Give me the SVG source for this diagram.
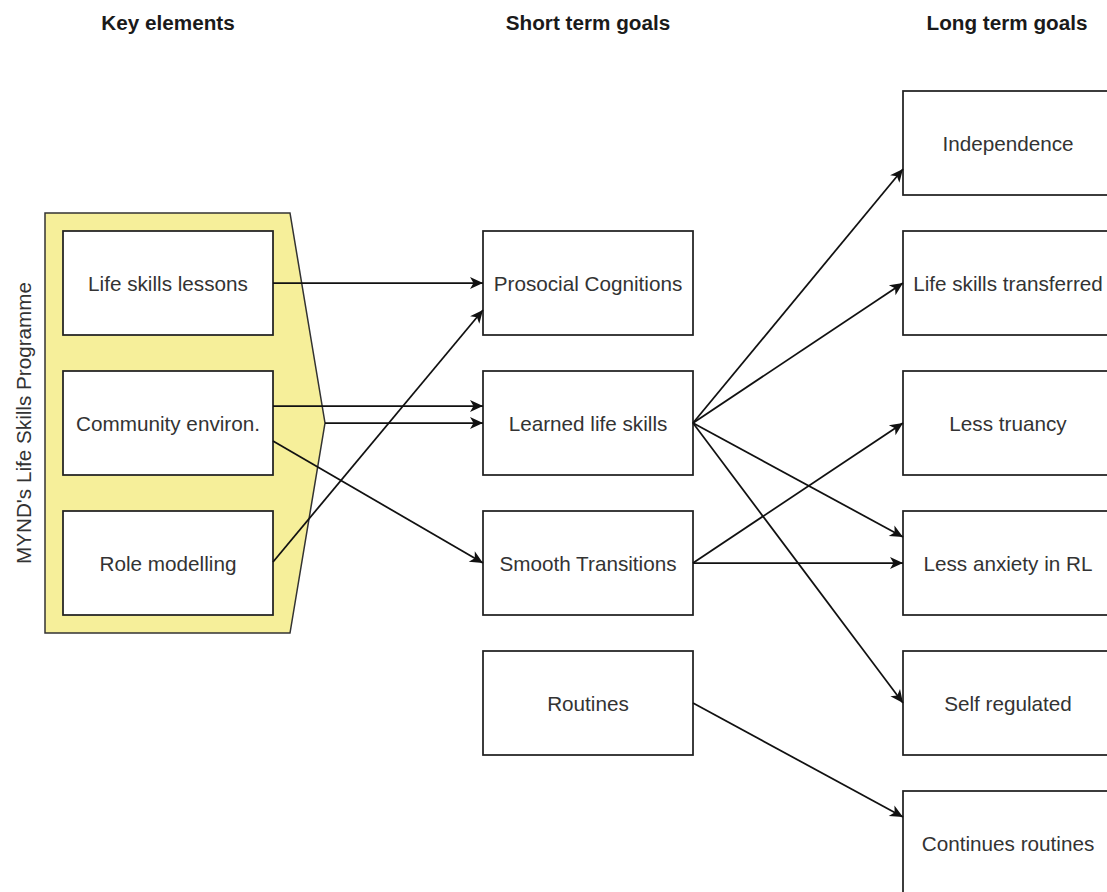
<svg xmlns="http://www.w3.org/2000/svg" width="1107" height="892" viewBox="0 0 1107 892">
  <style>
    .box { fill: #ffffff; stroke: #222222; stroke-width: 1.75; }
    .group { fill: #f6ef9a; stroke: #333333; stroke-width: 1.5; }
    .lbl { font-family: "Liberation Sans", Arial, sans-serif; font-size: 20.7px; fill: #333333; text-anchor: middle; dominant-baseline: central; }
    .hdr { font-family: "Liberation Sans", Arial, sans-serif; font-size: 20.7px; font-weight: bold; fill: #1a1a1a; text-anchor: middle; dominant-baseline: central; }
    .edge { fill: none; stroke: #111111; stroke-width: 1.75; marker-end: url(#arrow); }
  </style>
  <defs>
    <marker id="arrow" markerUnits="userSpaceOnUse" viewBox="-14 -7 14 14" refX="0" refY="0" markerWidth="14" markerHeight="14" orient="auto">
      <path d="M0,0 L-13,-6 L-9.5,0 L-13,6 Z" fill="#111111"/>
    </marker>
  </defs>
  <rect x="0" y="0" width="1107" height="892" fill="#ffffff"/>

  <g id="headers">
    <text class="hdr" x="168" y="22">Key elements</text>
    <text class="hdr" x="588" y="22">Short term goals</text>
    <text class="hdr" x="1007" y="22">Long term goals</text>
  </g>

  <g id="programme">
    <polygon class="group" points="45,213 290,213 325,423 290,633 45,633"/>
    <text class="lbl" transform="translate(23,423) rotate(-90)" x="0" y="0">MYND's Life Skills Programme</text>
  </g>

  <g id="life-skills-lessons">
    <rect class="box" x="63" y="231" width="210" height="104"/>
    <text class="lbl" x="168" y="283">Life skills lessons</text>
  </g>
  <g id="community-environ">
    <rect class="box" x="63" y="371" width="210" height="104"/>
    <text class="lbl" x="168" y="423">Community environ.</text>
  </g>
  <g id="role-modelling">
    <rect class="box" x="63" y="511" width="210" height="104"/>
    <text class="lbl" x="168" y="563">Role modelling</text>
  </g>

  <g id="prosocial-cognitions">
    <rect class="box" x="483" y="231" width="210" height="104"/>
    <text class="lbl" x="588" y="283">Prosocial Cognitions</text>
  </g>
  <g id="learned-life-skills">
    <rect class="box" x="483" y="371" width="210" height="104"/>
    <text class="lbl" x="588" y="423">Learned life skills</text>
  </g>
  <g id="smooth-transitions">
    <rect class="box" x="483" y="511" width="210" height="104"/>
    <text class="lbl" x="588" y="563">Smooth Transitions</text>
  </g>
  <g id="routines">
    <rect class="box" x="483" y="651" width="210" height="104"/>
    <text class="lbl" x="588" y="703">Routines</text>
  </g>

  <g id="independence">
    <rect class="box" x="903" y="91" width="210" height="104"/>
    <text class="lbl" x="1008" y="143">Independence</text>
  </g>
  <g id="life-skills-transferred">
    <rect class="box" x="903" y="231" width="210" height="104"/>
    <text class="lbl" x="1008" y="283">Life skills transferred</text>
  </g>
  <g id="less-truancy">
    <rect class="box" x="903" y="371" width="210" height="104"/>
    <text class="lbl" x="1008" y="423">Less truancy</text>
  </g>
  <g id="less-anxiety">
    <rect class="box" x="903" y="511" width="210" height="104"/>
    <text class="lbl" x="1008" y="563">Less anxiety in RL</text>
  </g>
  <g id="self-regulated">
    <rect class="box" x="903" y="651" width="210" height="104"/>
    <text class="lbl" x="1008" y="703">Self regulated</text>
  </g>
  <g id="continues-routines">
    <rect class="box" x="903" y="791" width="210" height="104"/>
    <text class="lbl" x="1008" y="843">Continues routines</text>
  </g>

  <g id="connectors">
    <path class="edge" d="M273,283 L483,283"/>
    <path class="edge" d="M273,562 L483,310"/>
    <path class="edge" d="M273,406 L483,406"/>
    <path class="edge" d="M325,423 L483,423"/>
    <path class="edge" d="M273,441 L483,563"/>
    <path class="edge" d="M693,423 L903,169"/>
    <path class="edge" d="M693,423 L903,283"/>
    <path class="edge" d="M693,423 L903,537"/>
    <path class="edge" d="M693,423 L903,703"/>
    <path class="edge" d="M693,563 L903,423"/>
    <path class="edge" d="M693,563 L903,563"/>
    <path class="edge" d="M693,703 L903,817"/>
  </g>
</svg>
